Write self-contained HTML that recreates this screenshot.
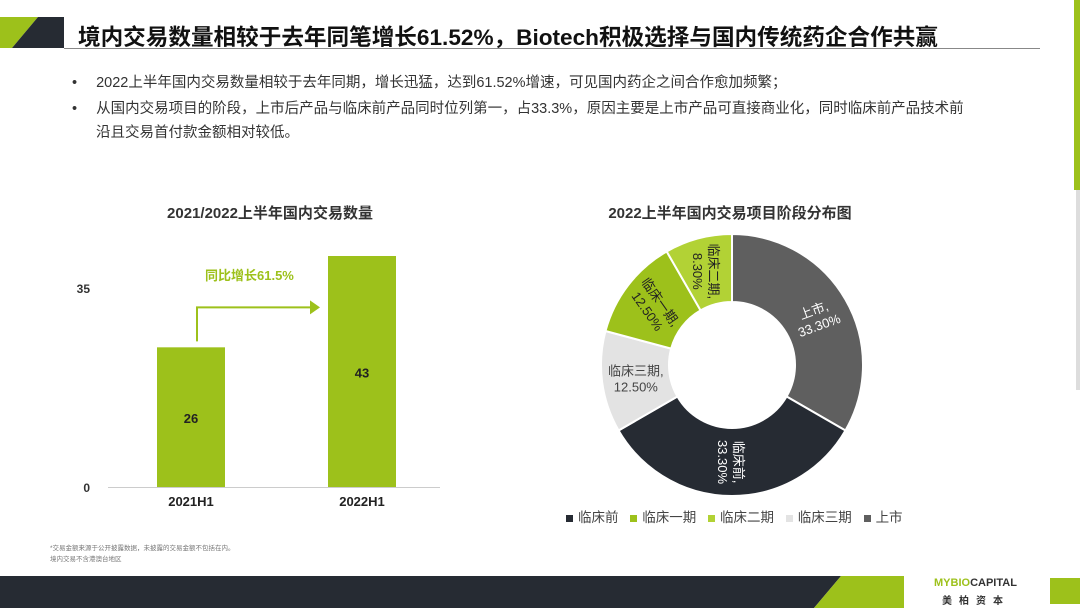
<!DOCTYPE html>
<html><head><meta charset="utf-8">
<style>
body{margin:0;width:1080px;height:608px;overflow:hidden;background:#fff;position:relative;font-family:"Liberation Sans","Noto Sans CJK SC",sans-serif;}
.abs{position:absolute;}
.bul{position:absolute;left:72px;font-size:14.5px;color:#333;white-space:nowrap}
</style></head><body>
<svg class="abs" style="left:0;top:0" width="1080" height="608">
  <polygon points="0,17 38,17 12,48 0,48" fill="#9dc11b"/>
  <polygon points="38,17 64,17 64,48 12,48" fill="#262b33"/>
  <line x1="64" y1="48.5" x2="1040" y2="48.5" stroke="#888" stroke-width="1"/>
  <rect x="1074" y="0" width="6" height="190" fill="#9dc11b"/>
  <rect x="1076" y="190" width="4" height="200" fill="#ddd"/>
  <polygon points="0,576 841,576 814,608 0,608" fill="#262b33"/>
  <polygon points="841,576 904,576 904,608 814,608" fill="#9dc11b"/>
  <rect x="1050" y="578" width="30" height="26" fill="#9dc11b"/>
</svg>
<div class="abs" style="left:78px;top:19px;font-size:22.6px;font-weight:bold;color:#111;white-space:nowrap">境内交易数量相较于去年同笔增长61.52%，Biotech积极选择与国内传统药企合作共赢</div>
<div class="bul" style="top:71px">•<span style="margin-left:19px">2022上半年国内交易数量相较于去年同期，增长迅猛，达到61.52%增速，可见国内药企之间合作愈加频繁；</span></div>
<div class="bul" style="top:97px">•<span style="margin-left:19px">从国内交易项目的阶段，上市后产品与临床前产品同时位列第一，占33.3%，原因主要是上市产品可直接商业化，同时临床前产品技术前</span></div>
<div class="bul" style="top:121px;left:96px">沿且交易首付款金额相对较低。</div>
<div class="abs" style="left:140px;top:202px;width:260px;text-align:center;font-size:15px;font-weight:bold;color:#333">2021/2022上半年国内交易数量</div>
<div class="abs" style="left:560px;top:202px;width:340px;text-align:center;font-size:15px;font-weight:bold;color:#333">2022上半年国内交易项目阶段分布图</div>
<svg id="bar" class="abs" style="left:0;top:0" width="540" height="540"></svg>
<svg id="pie" class="abs" style="left:540px;top:0" width="540" height="540"></svg>
<div class="abs" style="left:566px;top:506px;font-size:13.5px;color:#444;white-space:nowrap">
<span><span style="display:inline-block;width:7px;height:7px;background:#262b33;margin-right:5px"></span>临床前</span>
<span style="margin-left:8px"><span style="display:inline-block;width:7px;height:7px;background:#9dc11b;margin-right:5px"></span>临床一期</span>
<span style="margin-left:8px"><span style="display:inline-block;width:7px;height:7px;background:#b2d235;margin-right:5px"></span>临床二期</span>
<span style="margin-left:8px"><span style="display:inline-block;width:7px;height:7px;background:#e3e3e3;margin-right:5px"></span>临床三期</span>
<span style="margin-left:8px"><span style="display:inline-block;width:7px;height:7px;background:#5f5f5f;margin-right:5px"></span>上市</span>
</div>
<div class="abs" style="left:50px;top:543px;font-size:6.5px;color:#777;line-height:11px">*交易金额来源于公开披露数据，未披露的交易金额不包括在内。<br>境内交易不含港澳台地区</div>
<div class="abs" style="left:934px;top:577px;font-size:11px;font-weight:bold;color:#333"><span style="color:#9dc11b">MYBIO</span>CAPITAL</div>
<div class="abs" style="left:942px;top:592px;font-size:10px;font-weight:bold;color:#333;letter-spacing:7px">美柏资本</div>
<script>
const NS="http://www.w3.org/2000/svg";
function mk(p,t,a){const e=document.createElementNS(NS,t);for(const k in a)e.setAttribute(k,a[k]);p.appendChild(e);return e;}
// bar chart data
const barCats=["2021H1","2022H1"];
const barVals=[26,43];
const yTicks=[0,35];
const bar=document.getElementById('bar');
const y0=487,yMax=43,ypx=231;
const Y=v=>y0-v/yMax*ypx;
const X=i=>191+i*171;
const bw=68;
let ax=mk(bar,'line',{x1:108,y1:y0+0.5,x2:440,y2:y0+0.5,stroke:'#ccc'});


yTicks.forEach(t=>{const e=mk(bar,'text',{x:90,y:(t===0?y0:Y(t+2))+5,'text-anchor':'end','font-size':12,'font-weight':'bold',fill:'#333'});e.textContent=t;

});
barCats.forEach((c,i)=>{
 const r=mk(bar,'rect',{x:X(i)-bw/2,y:Y(barVals[i]),width:bw,height:y0-Y(barVals[i]),fill:'#9dc11b'});
 
 
 const v=mk(bar,'text',{x:X(i),y:(Y(barVals[i])+y0)/2+6,'text-anchor':'middle','font-size':13,'font-weight':'bold',fill:'#222'});v.textContent=barVals[i];
 
 
 const l=mk(bar,'text',{x:X(i),y:506,'text-anchor':'middle','font-size':13,'font-weight':'bold',fill:'#222'});l.textContent=c;
 
 
});
const g=mk(bar,'path',{d:`M${X(0)+6} ${Y(barVals[0])-6} V${Y(barVals[0])-40} H${X(1)-52}`,stroke:'#9dc11b','stroke-width':2,fill:'none'});


mk(bar,'polygon',{points:`${X(1)-52},${Y(barVals[0])-47} ${X(1)-42},${Y(barVals[0])-40} ${X(1)-52},${Y(barVals[0])-33}`,fill:'#9dc11b'});
const gt=mk(bar,'text',{x:205,y:280,'font-size':13,'font-weight':'bold',fill:'#9dc11b'});gt.textContent="同比增长61.5%";


// donut data
const pieCats=["上市","临床前","临床三期","临床一期","临床二期"];
const pieVals=[33.3,33.3,12.5,12.5,8.3];
const pieLabels=["33.30%","33.30%","12.50%","12.50%","8.30%"];
const pieColors=["#5f5f5f","#262b33","#e3e3e3","#9dc11b","#b2d235"];
const txtColors=["#fff","#fff","#444","#222","#222"];
const pie=document.getElementById('pie');
const cx=192,cy=365,R=131,r=63;
const tot=pieVals.reduce((a,b)=>a+b,0);
let a0=-Math.PI/2;
const P=(rad,a)=>[cx+rad*Math.cos(a),cy+rad*Math.sin(a)];
pieVals.forEach((v,i)=>{
 const a1=a0+v/tot*2*Math.PI;const lg=(a1-a0)>Math.PI?1:0;
 const [x1,y1]=P(R,a0),[x2,y2]=P(R,a1),[x3,y3]=P(r,a1),[x4,y4]=P(r,a0);
 const s=mk(pie,'path',{d:`M${x1} ${y1} A${R} ${R} 0 ${lg} 1 ${x2} ${y2} L${x3} ${y3} A${r} ${r} 0 ${lg} 0 ${x4} ${y4}Z`,fill:pieColors[i],stroke:'#fff','stroke-width':2});
 
 
 const am=(a0+a1)/2;const [tx,ty]=P((R+r)/2,am);
 let rot=am*180/Math.PI+90; if(i===2) rot=0; if(i===0) rot=-20; if(i===1) rot=90; if(i===3) rot=55; if(i===4) rot=90;
 const t=mk(pie,'text',{x:0,y:0,'text-anchor':'middle','font-size':13,fill:txtColors[i],transform:`translate(${tx},${ty}) rotate(${rot})`});
 const s1=mk(t,'tspan',{x:0,dy:-2});s1.textContent=pieCats[i]+",";
 const s2=mk(t,'tspan',{x:0,dy:16});s2.textContent=pieLabels[i];
 
 
 a0=a1;
});
</script>
</body></html>
